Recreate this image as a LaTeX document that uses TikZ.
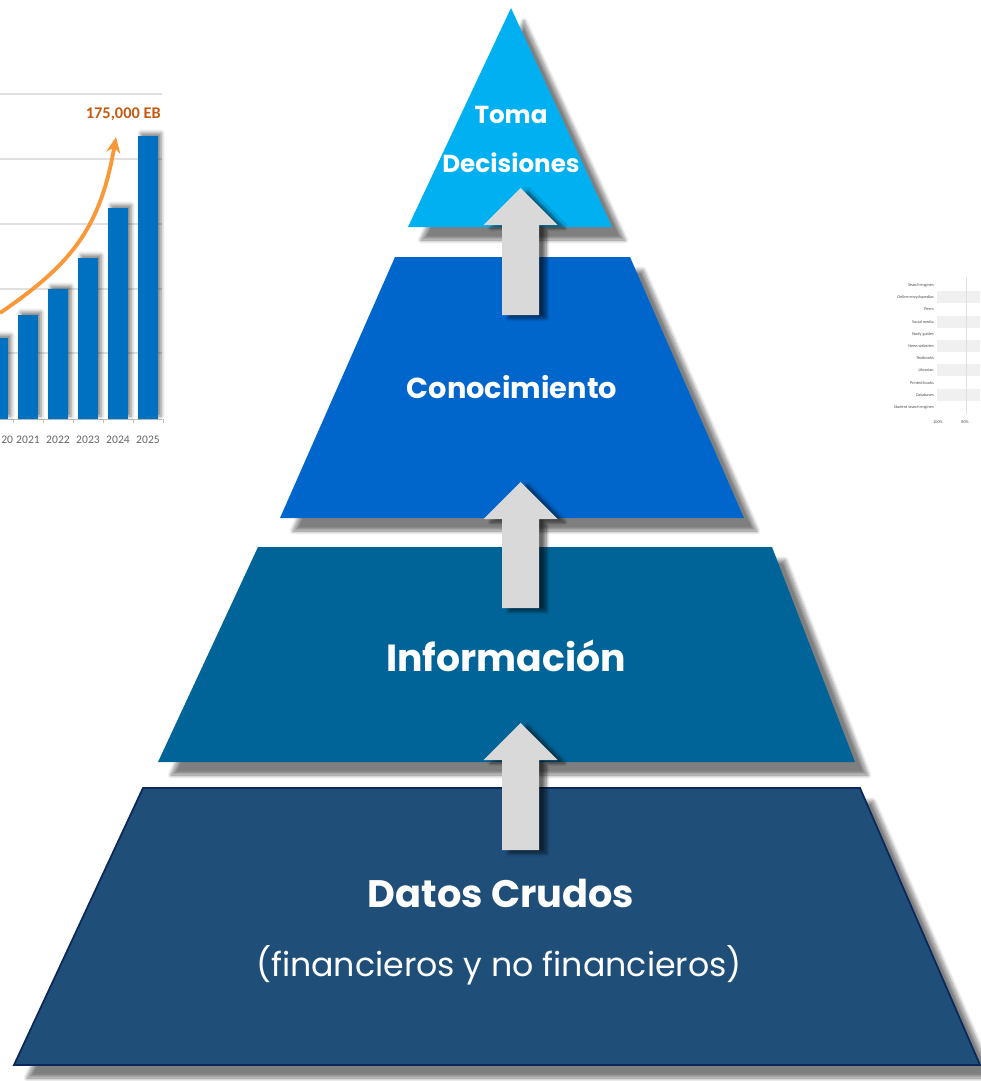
\documentclass[tikz,border=0pt]{standalone}
\usepackage{fontspec}
\setmainfont{Poppins}
\newfontfamily\chartfont{Carlito}
\usetikzlibrary{calc, arrows.meta, shadows.blur}
\definecolor{topblue}{RGB}{0,176,240}
\definecolor{midblue}{RGB}{0,102,204}
\definecolor{infoblue}{RGB}{0,100,152}
\definecolor{datablue}{RGB}{31,78,121}
\definecolor{datadraw}{RGB}{10,40,90}
\definecolor{arrowgray}{RGB}{217,217,217}
\definecolor{barblue}{RGB}{0,112,192}
\definecolor{ebbrown}{RGB}{197,90,17}
\definecolor{curveorange}{RGB}{248,152,56}
\newcommand{\uparrowblock}[2]{%
  \fill[upblock] ($(#1)+(-18.5,0)$) -- ($(#2)+(-18.5,37)$) -- ($(#2)+(-37,37)$) -- (#2)
     -- ($(#2)+(37,37)$) -- ($(#2)+(18.5,37)$) -- ($(#1)+(18.5,0)$) -- cycle;}

\begin{document}
\begin{tikzpicture}[x=0.02cm, y=-0.02cm]
\tikzstyle{level}=[blur shadow={shadow xshift=2.6mm, shadow yshift=-2.6mm, shadow blur steps=10, shadow opacity=50}]
\tikzstyle{lbl}=[text=white, font=\bfseries, align=center]
\tikzstyle{upblock}=[arrowgray, blur shadow={shadow xshift=1.4mm, shadow yshift=-0.6mm, shadow blur steps=6, shadow opacity=60}]
\tikzstyle{bar}=[barblue, blur shadow={shadow xshift=0.6mm, shadow yshift=0.6mm, shadow blur steps=4, shadow opacity=50}]
\tikzstyle{yr}=[text=black!60, font=\chartfont\fontsize{6.6}{7}\selectfont, inner sep=0pt]
\tikzstyle{src}=[text=black!70, font=\chartfont\fontsize{2.4}{2.6}\selectfont, anchor=east, inner sep=0pt]
\useasboundingbox (0,0) rectangle (980,1081);
% 1. Side charts
%%%%%%%%%%%%%%%%
\foreach \gy in {94,159,224,289,353}
  \draw[black!12, line width=0.8pt] (0,\gy) -- (162,\gy);
\draw[black!25] (0,419) -- (162,419);
\foreach \tx in {13,43,73,103,133,163}
  \draw[black!25] (\tx,419) -- (\tx,423);
\foreach \bx/\top in {-12/338, 18/315, 48/289, 78/258, 108/208, 138/136}
  \fill[bar] (\bx,\top) rectangle ++(20,419-\top);
\foreach \lx/\yrtext in {28/2021, 58/2022, 88/2023, 118/2024, 148/2025}
  \node[yr] (yr\yrtext) at (\lx,440) {\yrtext};
\node[yr, anchor=west] (yr2020) at (1,440) {20};
\node[text=ebbrown, font=\chartfont\bfseries\fontsize{9.3}{10}\selectfont, anchor=east, inner sep=0pt] (eb) at (161,114) {175,000 EB};
\draw[curveorange, line width=2.2pt, -{Stealth[length=9pt,width=8pt]}]
  (0,313) .. controls (70,265) and (100,230) .. (116,137);

\foreach \ry in {297,322,346,370,395}
  \fill[black!6] (937,\ry-6) rectangle (980,\ry+6);
\draw[black!12] (966,277) -- (966,414);
\foreach \sy/\stext in {285/Search engines, 297/Online encyclopedias, 309/Peers, 322/Social media,
    334/Study guides, 346/News websites, 358/Textbooks, 370/Librarian, 383/Printed books,
    395/Databases, 407/Student search engines}
  \node[src] at (934,\sy) {\stext};
\node[src, anchor=center] (p100) at (938,422) {100\%};
\node[src, anchor=center] (p80) at (965,422) {80\%};
% 2. Pyramid levels
%%%%%%%%%%%%%%%%%%%
\fill[level, datablue, draw=datadraw, line width=1pt] (143,788) -- (860,788) -- (980,1065) -- (14,1065) -- cycle;
\fill[level, infoblue] (258,547) -- (772,547) -- (855,762) -- (158,762) -- cycle;
\fill[level, midblue] (395,257) -- (630,257) -- (744,518) -- (280,518) -- cycle;
\fill[level, topblue] (511,8) -- (612,227) -- (408,227) -- cycle;
% 3. Labels
%%%%%%%%%%%
\node[lbl, font=\bfseries\fontsize{14}{16}\selectfont] (toma) at (511,115) {Toma};
\node[lbl, font=\bfseries\fontsize{14}{16}\selectfont] (decision) at (511,163) {Decisiones};
\node[lbl, font=\bfseries\fontsize{16.4}{19}\selectfont] (conoc) at (512,387) {Conocimiento};
\node[lbl, font=\bfseries\fontsize{21.5}{24}\selectfont] (info) at (506,656) {Información};
\node[lbl, font=\bfseries\fontsize{21.8}{25}\selectfont] (datos) at (501,893) {Datos Crudos};
\node[lbl, font=\fontsize{18.9}{22}\selectfont] (fin) at (499,965) {(financieros y no financieros)};
% 4. Arrows
%%%%%%%%%%%
\coordinate (a1base) at (520.5,315);  \coordinate (a1tip) at (520.5,188);
\coordinate (a2base) at (520.5,608);  \coordinate (a2tip) at (520.5,482);
\coordinate (a3base) at (520.5,850);  \coordinate (a3tip) at (520.5,723);
\uparrowblock{a1base}{a1tip}
\uparrowblock{a2base}{a2tip}
\uparrowblock{a3base}{a3tip}
\end{tikzpicture}
\end{document}
